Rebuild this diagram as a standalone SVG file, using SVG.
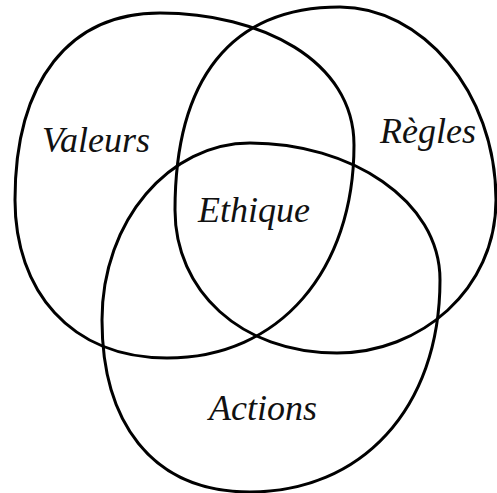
<svg xmlns="http://www.w3.org/2000/svg" width="497" height="493" viewBox="0 0 497 493">
<style>
.blob{fill:none;stroke:#000;stroke-width:3}
.lbl{font-family:"Liberation Serif","Times New Roman",serif;font-style:italic;font-size:36px;fill:#111;text-anchor:middle}
</style>
<rect width="497" height="493" fill="#fff"/>
<g id="valeurs">
<path class="blob" d="M160,13 C260,13 354,60 354,145 C354,270 280,358 167,358 C70,358 15,290 15,200 C15,80 70,13 160,13 Z"/>
<text class="lbl" x="96" y="152">Valeurs</text>
</g>
<g id="regles">
<path class="blob" d="M340,7 C420,7 496,90 496,200 C496,290 420,353 337,353 C240,353 175,290 175,210 C175,80 230,7 340,7 Z"/>
<text class="lbl" x="428" y="143">Règles</text>
</g>
<g id="actions">
<path class="blob" d="M250,143 C350,143 440,200 440,280 C440,410 360,492 250,492 C150,492 102,420 102,320 C102,220 170,143 250,143 Z"/>
<text class="lbl" x="263" y="420">Actions</text>
</g>
<g id="ethique">
<text class="lbl" x="254" y="222">Ethique</text>
</g>
<g id="connectors"/>
</svg>
